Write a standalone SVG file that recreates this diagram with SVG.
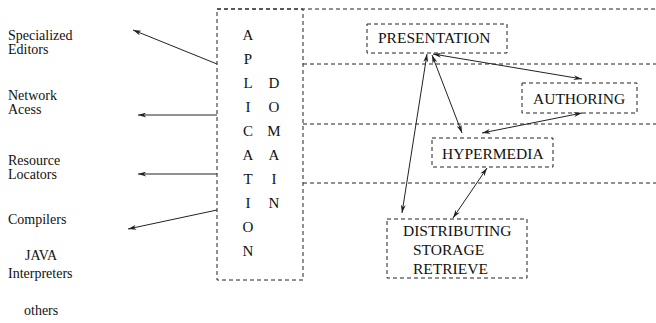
<svg xmlns="http://www.w3.org/2000/svg" width="656" height="323" viewBox="0 0 656 323">
<defs>
<style>
text{font-family:'Liberation Serif','DejaVu Serif',serif;font-size:15px;fill:#111}
.d{fill:none;stroke:#222;stroke-width:1;stroke-dasharray:4 3}
.c{fill:none;stroke:#222;stroke-width:1}
.l{text-anchor:middle}
.s{font-size:14px}
</style>
<marker id="ah" viewBox="0 0 10 6" refX="10" refY="3" markerWidth="9" markerHeight="5" markerUnits="userSpaceOnUse" orient="auto-start-reverse">
<path d="M0,0 L10,3 L0,6 L3,3 Z" fill="#222"/>
</marker>
</defs>
<rect width="656" height="323" fill="#fff"/>
<g font-family="Liberation Serif, DejaVu Serif, serif">
<g id="lanes">
<path class="d" d="M217,9 H656 M303,64 H656 M303,124 H656 M303,183 H656"/>
</g>
<g id="app-domain">
<rect class="d" x="217" y="9" width="86" height="271"/>
<g class="l">
<text x="248" y="40">A</text><text x="248" y="64">P</text><text x="248" y="88">L</text><text x="248" y="112">I</text><text x="248" y="136">C</text><text x="248" y="160">A</text><text x="248" y="184">T</text><text x="248" y="208">I</text><text x="248" y="232">O</text><text x="248" y="256">N</text>
<text x="274" y="88">D</text><text x="274" y="112">O</text><text x="274" y="136">M</text><text x="274" y="160">A</text><text x="274" y="184">I</text><text x="274" y="208">N</text>
</g>
</g>
<g id="specialized-editors"><text class="s" x="8" y="40">Specialized</text><text class="s" x="8" y="54">Editors</text></g>
<g id="network-acess"><text class="s" x="8" y="100">Network</text><text class="s" x="8" y="114">Acess</text></g>
<g id="resource-locators"><text class="s" x="8" y="165">Resource</text><text class="s" x="8" y="179">Locators</text></g>
<g id="compilers"><text class="s" x="8" y="224">Compilers</text></g>
<g id="java-interpreters"><text class="s" x="25" y="260">JAVA</text><text class="s" x="8" y="278">Interpreters</text></g>
<g id="others"><text class="s" x="24" y="315">others</text></g>
<g id="presentation"><rect class="d" x="367" y="24" width="140" height="29"/><text x="378" y="43" style="font-size:15.5px">PRESENTATION</text></g>
<g id="authoring"><rect class="d" x="522" y="83" width="115" height="30"/><text x="533" y="104" style="font-size:15.5px">AUTHORING</text></g>
<g id="hypermedia"><rect class="d" x="432" y="138" width="121" height="29"/><text x="442" y="159" style="font-size:15.5px">HYPERMEDIA</text></g>
<g id="distributing"><rect class="d" x="387" y="219" width="140" height="59"/><text x="403" y="236" style="font-size:15.5px">DISTRIBUTING</text><text x="413" y="255" style="font-size:15.5px">STORAGE</text><text x="413" y="274" style="font-size:15.5px">RETRIEVE</text></g>
<g id="connectors">
<line class="c" x1="217" y1="64" x2="133" y2="30" marker-end="url(#ah)"/>
<line class="c" x1="217" y1="115" x2="138" y2="115" marker-end="url(#ah)"/>
<line class="c" x1="217" y1="174" x2="138" y2="174" marker-end="url(#ah)"/>
<line class="c" x1="217" y1="210" x2="128" y2="229" marker-end="url(#ah)"/>
<line class="c" x1="433" y1="54" x2="582" y2="79" marker-start="url(#ah)" marker-end="url(#ah)"/>
<line class="c" x1="432" y1="55" x2="462" y2="133" marker-start="url(#ah)" marker-end="url(#ah)"/>
<line class="c" x1="402" y1="213" x2="427" y2="54" marker-start="url(#ah)" marker-end="url(#ah)"/>
<line class="c" x1="582" y1="113" x2="482" y2="133" marker-start="url(#ah)" marker-end="url(#ah)"/>
<line class="c" x1="487" y1="168" x2="453" y2="218" marker-start="url(#ah)" marker-end="url(#ah)"/>
</g>
</g>
</svg>
